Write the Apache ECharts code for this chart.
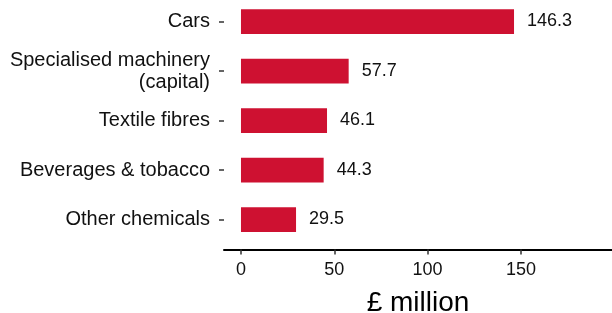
<!DOCTYPE html>
<html>
<head>
    <meta http-equiv="Content-Type" content="text/html; charset=utf-8">
    <title>Exports</title>
    <script src="https://cdn.jsdelivr.net/npm/echarts@6.0.0/dist/echarts.min.js"></script>
    <style>
        html, body { margin: 0; padding: 0; background: #fff; }
    </style>
</head>
<body>
    <div id="chart" style="width: 612px;height:313px;"></div>
    <script type="text/javascript">
        // categories, top to bottom
        var categories = ['Cars', 'Specialised machinery\n(capital)', 'Textile fibres', 'Beverages & tobacco', 'Other chemicals'];
        var values = [146.3, 57.7, 46.1, 44.3, 29.5];
        var xTicks = [0, 50, 100, 150];

        var font = 'Liberation Sans, Arial, sans-serif';
        var chart = echarts.init(document.getElementById('chart'));
        var option = {
            animation: false,
            textStyle: { fontFamily: font },
            grid: {
                left: 224,
                right: 0,
                top: -3.25,
                height: 247.5,
                outerBoundsMode: 'none',
                containLabel: false
            },
            xAxis: {
                type: 'value',
                min: -9.1,
                max: 198.8,
                offset: 5.25,
                splitLine: { show: false },
                axisLine: { show: true, onZero: false, lineStyle: { color: '#000', width: 2 } },
                axisTick: {
                    show: true,
                    length: 5,
                    customValues: xTicks,
                    lineStyle: { color: '#333', width: 1.5 }
                },
                axisLabel: {
                    customValues: xTicks,
                    margin: 12,
                    fontSize: 18,
                    color: '#111',
                    fontFamily: font
                },
                name: '£ million',
                nameLocation: 'middle',
                nameGap: 40,
                nameTextStyle: { fontSize: 28, color: '#000', fontFamily: font }
            },
            yAxis: {
                type: 'category',
                inverse: true,
                data: categories,
                axisLine: { show: false, onZero: false },
                axisTick: {
                    show: true,
                    alignWithLabel: true,
                    length: 5,
                    lineStyle: { color: '#333', width: 1.5 }
                },
                axisLabel: {
                    margin: 14,
                    fontSize: 20,
                    lineHeight: 22,
                    color: '#111',
                    align: 'right',
                    fontFamily: font
                }
            },
            series: [
                {
                    type: 'bar',
                    data: values,
                    barWidth: '50%',
                    itemStyle: { color: '#CE1131' },
                    label: {
                        show: true,
                        position: 'right',
                        distance: 13,
                        fontSize: 18,
                        color: '#111',
                        fontFamily: font,
                        formatter: function (p) { return p.value.toFixed(1); }
                    }
                }
            ]
        };
        chart.setOption(option);
    </script>
</body>
</html>
